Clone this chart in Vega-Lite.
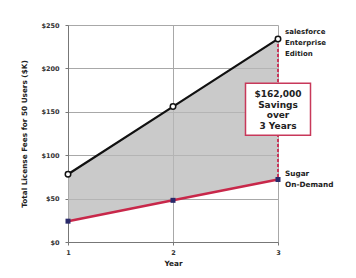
{
  "$schema": "https://vega.github.io/schema/vega-lite/v6.json",
  "width": 210,
  "height": 217,
  "autosize": "none",
  "padding": {"left": 68, "top": 25, "right": 78, "bottom": 36},
  "background": "white",
  "config": {
    "view": {"stroke": null},
    "font": "DejaVu Sans",
    "axis": {
      "labelFont": "DejaVu Sans", "labelFontWeight": "bold", "labelFontSize": 6.5, "labelColor": "#333",
      "titleFont": "DejaVu Sans", "titleFontWeight": "bold", "titleFontSize": 7.3, "titleColor": "#222",
      "gridColor": "#a8a8a8", "gridWidth": 1, "domainColor": "#777", "tickColor": "#777", "tickSize": 3
    }
  },
  "data": {
    "values": [
      {"year": 1, "salesforce": 78, "sugar": 24},
      {"year": 2, "salesforce": 156, "sugar": 48},
      {"year": 3, "salesforce": 234, "sugar": 72}
    ]
  },
  "encoding": {
    "x": {"field": "year", "type": "quantitative", "scale": {"domain": [1, 3], "nice": false, "zero": false},
          "axis": {"tickCount": 2, "tickMinStep": 1, "title": "Year", "titlePadding": 4, "labelPadding": 4, "labelOverlap": false, "labelFlush": false}}
  },
  "layer": [
    {
      "mark": {"type": "area", "color": "#b8b8b8", "opacity": 0.75},
      "encoding": {
        "y": {"field": "salesforce", "type": "quantitative", "scale": {"domain": [0, 250], "nice": false},
              "axis": {"values": [0, 50, 100, 150, 200, 250], "labelExpr": "'$' + datum.value",
                       "title": "Total License Fees for 50 Users ($K)", "titlePadding": 12, "labelPadding": 6}},
        "y2": {"field": "sugar"}
      }
    },
    {
      "transform": [{"filter": "datum.year == 3"}],
      "mark": {"type": "rule", "color": "#c8385a", "strokeWidth": 2, "strokeDash": [3, 2]},
      "encoding": {
        "y": {"field": "salesforce", "type": "quantitative"},
        "y2": {"field": "sugar"}
      }
    },
    {
      "mark": {"type": "line", "color": "#111", "strokeWidth": 2.2},
      "encoding": {
        "y": {"field": "salesforce", "type": "quantitative"}
      }
    },
    {
      "mark": {"type": "line", "color": "#c8284a", "strokeWidth": 2.5},
      "encoding": {
        "y": {"field": "sugar", "type": "quantitative"}
      }
    },
    {
      "mark": {"type": "point", "shape": "circle", "filled": true, "fill": "white", "stroke": "#111", "strokeWidth": 1.5, "size": 30, "opacity": 1},
      "encoding": {
        "y": {"field": "salesforce", "type": "quantitative"}
      }
    },
    {
      "mark": {"type": "point", "shape": "square", "filled": true, "color": "#2a2a6a", "size": 25, "opacity": 1},
      "encoding": {
        "y": {"field": "sugar", "type": "quantitative"}
      }
    },
    {
      "transform": [{"filter": "datum.year == 3"}, {"fold": ["salesforce", "sugar"]}],
      "mark": {"type": "point", "shape": "M-1.25,-1L1.25,-1L1.25,1L-1.25,1Z", "size": 2704, "filled": true, "fill": "white", "stroke": "#c8385a", "strokeWidth": 1.5, "opacity": 1},
      "encoding": {
        "y": {"aggregate": "mean", "field": "value", "type": "quantitative"}
      }
    },
    {
      "transform": [{"filter": "datum.year == 3"}, {"fold": ["salesforce", "sugar"]}],
      "mark": {"type": "text", "text": ["$162,000", "Savings", "over", "3 Years"], "font": "DejaVu Sans", "fontWeight": "bold", "fontSize": 9, "lineHeight": 10.5, "align": "center", "baseline": "middle", "dy": -15, "color": "#222"},
      "encoding": {
        "y": {"aggregate": "mean", "field": "value", "type": "quantitative"}
      }
    },
    {
      "transform": [{"filter": "datum.year == 3"}],
      "mark": {"type": "text", "text": ["salesforce", "Enterprise", "Edition"], "font": "DejaVu Sans", "fontWeight": "bold", "fontSize": 7, "lineHeight": 11, "align": "left", "baseline": "middle", "dx": 7, "dy": -7, "color": "#222"},
      "encoding": {
        "y": {"field": "salesforce", "type": "quantitative"}
      }
    },
    {
      "transform": [{"filter": "datum.year == 3"}],
      "mark": {"type": "text", "text": ["Sugar", "On-Demand"], "font": "DejaVu Sans", "fontWeight": "bold", "fontSize": 7.3, "lineHeight": 11, "align": "left", "baseline": "middle", "dx": 7, "dy": -6, "color": "#222"},
      "encoding": {
        "y": {"field": "sugar", "type": "quantitative"}
      }
    }
  ]
}
